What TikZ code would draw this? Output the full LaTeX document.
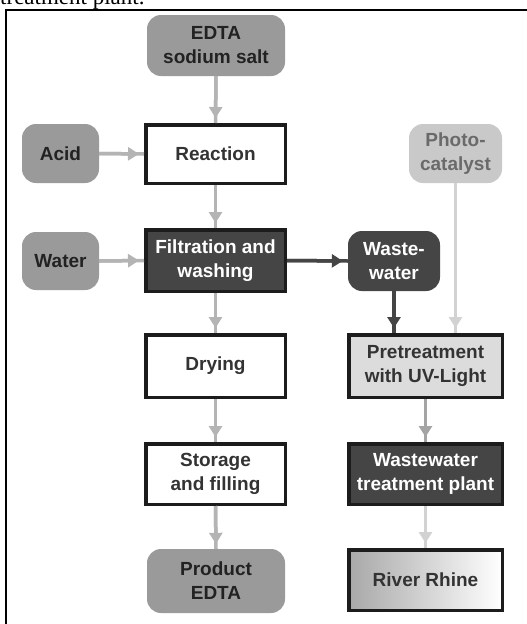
\documentclass[tikz,border=0pt]{standalone}
\usepackage{fontspec}
\setmainfont{Liberation Serif}
\newfontfamily\boxfont{Liberation Sans}
\usetikzlibrary{arrows.meta}

\definecolor{pillgray}{HTML}{9A9A9A}
\definecolor{photogray}{HTML}{C9C9C9}
\definecolor{photoink}{HTML}{6A6A6A}
\definecolor{boxdark}{HTML}{454545}
\definecolor{frameblack}{HTML}{1C1C1C}
\definecolor{pregray}{HTML}{DCDCDC}
\definecolor{rivergray}{HTML}{A8A8A8}
\definecolor{inkdark}{HTML}{222222}
\definecolor{inkmid}{HTML}{333333}
\definecolor{lightline}{HTML}{B4B4B4}
\definecolor{paleline}{HTML}{D2D2D2}
\definecolor{midline}{HTML}{A4A4A4}

\begin{document}
\begin{tikzpicture}[x=1pt,y=-1pt,
  every node/.style={inner sep=0pt, align=center,
    font=\boxfont\bfseries\fontsize{19}{24}\selectfont},
  pill/.style={rounded corners=14pt, fill=pillgray, text=inkdark},
  stepbox/.style={draw=frameblack, line width=3.5pt, fill=white, text=inkmid},
  darkbox/.style={stepbox, fill=boxdark, text=white},
  flow/.style={line width=3.5pt, draw=#1,
    postaction={draw=#1, line width=3.5pt, shorten >=5pt,
      -{Triangle[width=13pt,length=11pt]}}}
]
\useasboundingbox (0,0) rectangle (527,624);
\clip (0,0) rectangle (527,624);

% caption line cut off above the frame
\node[anchor=base west, font=\rmfamily\fontsize{23}{23}\selectfont, text=black]
  (caption) at (0,4) {treatment plant.};

% frame
\draw[line width=2pt, black] (6,650) -- (6,10) -- (540,10);

% left column: production
\node[pill, minimum width=138pt, minimum height=61pt] (salt) at (216,45.5) {EDTA\\sodium salt};
\node[stepbox, minimum width=139.5pt, minimum height=58.5pt] (react) at (215.5,154) {Reaction};
\node[pill, minimum width=77pt, minimum height=59pt] (acid) at (60.5,153.5) {Acid};
\node[darkbox, minimum width=139.5pt, minimum height=61.5pt] (filt) at (215.5,260.5) {Filtration and\\washing};
\node[pill, minimum width=77pt, minimum height=58pt] (water) at (60.5,261) {Water};
\node[stepbox, minimum width=139.5pt, minimum height=62.5pt] (dry) at (215.5,366) {Drying};
\node[stepbox, minimum width=139.5pt, minimum height=60.5pt] (store) at (215.5,474) {Storage\\and filling};
\node[pill, minimum width=138pt, minimum height=64pt] (product) at (216,581) {Product\\EDTA};

% right column: wastewater
\node[pill, fill=photogray, text=photoink, minimum width=93pt, minimum height=59pt] (photo) at (455.5,153.5) {Photo-\\catalyst};
\node[pill, fill=boxdark, text=white, minimum width=92pt, minimum height=60pt] (waste) at (394,261) {Waste-\\water};
\node[stepbox, fill=pregray, minimum width=153.5pt, minimum height=62.5pt] (pre) at (425.5,366) {Pretreatment\\with UV-Light};
\node[darkbox, minimum width=153.5pt, minimum height=60.5pt] (wwtp) at (425.5,474) {Wastewater\\treatment plant};
\node[stepbox, left color=rivergray, right color=white, minimum width=153.5pt, minimum height=60.5pt] (river) at (425.5,580) {River Rhine};

% connectors
\draw[flow=lightline] (salt.south) -- (react.north);
\draw[flow=lightline] (acid.east) -- (react.west);
\draw[flow=lightline] (react.south) -- (filt.north);
\draw[flow=lightline] (water.east) -- (filt.west);
\draw[flow=boxdark] (filt.east) -- (waste.west);
\draw[flow=lightline] (filt.south) -- (dry.north);
\draw[flow=lightline] (dry.south) -- (store.north);
\draw[flow=lightline] (store.south) -- (product.north);
\draw[flow=boxdark] (waste.south) -- (waste.south |- pre.north);
\draw[flow=paleline] (photo.south) -- (photo.south |- pre.north);
\draw[flow=midline] (pre.south) -- (wwtp.north);
\draw[flow=paleline] (wwtp.south) -- (river.north);
\end{tikzpicture}
\end{document}
